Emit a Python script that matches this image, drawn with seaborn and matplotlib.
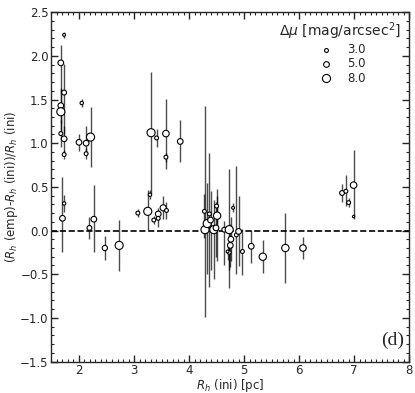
import numpy as np
import pandas as pd
import matplotlib
matplotlib.use("Agg")
import matplotlib.pyplot as plt
from matplotlib.ticker import MultipleLocator
import seaborn as sns

# R_h (ini) [pc]
rh_ini = [1.73, 1.67, 1.73, 1.67, 1.67, 1.67, 1.73, 1.73, 2.05, 2.00,
          2.13, 2.13, 2.21, 1.70, 1.73, 2.19, 2.27, 2.47, 2.73, 3.07,
          3.25, 3.29, 3.36, 3.44, 3.44, 3.53, 3.59, 3.31, 3.41, 3.58,
          3.58, 3.84,
          4.28, 4.29, 4.33, 4.37, 4.39, 4.45, 4.51, 4.49, 4.50, 4.64,
          4.73, 4.76, 4.75, 4.73, 4.70, 4.86, 4.90, 4.80,
          4.97, 5.13, 5.34, 5.75, 6.07, 6.78, 6.85, 6.90, 6.99, 6.99]
# relative difference (R_h(emp)-R_h(ini))/R_h(ini)
rel_diff = [2.24, 1.92, 1.58, 1.43, 1.36, 1.11, 1.05, 0.87, 1.46, 1.01,
            1.00, 0.88, 1.07, 0.14, 0.31, 0.03, 0.13, -0.20, -0.17, 0.20,
            0.22, 0.41, 0.12, 0.19, 0.14, 0.26, 0.23, 1.12, 1.06, 1.11,
            0.84, 1.02,
            0.22, 0.01, 0.08, 0.19, 0.12, 0.01, 0.17, 0.03, 0.28, 0.01,
            0.01, -0.10, -0.17, -0.25, -0.24, -0.05, -0.01, 0.26,
            -0.24, -0.18, -0.30, -0.20, -0.20, 0.43, 0.45, 0.32, 0.52, 0.16]
err_lo = [0.03, 0.35, 0.47, 0.20, 0.25, 0.15, 0.15, 0.05, 0.05, 0.10,
          0.12, 0.06, 0.34, 0.39, 0.10, 0.13, 0.37, 0.14, 0.29, 0.05,
          0.21, 0.05, 0.05, 0.07, 0.10, 0.13, 0.10, 0.70, 0.10, 0.40,
          0.05, 0.24,
          0.30, 1.00, 0.58, 0.84, 0.57, 0.56, 0.52, 0.33, 0.20, 0.41,
          0.67, 0.25, 0.25, 0.20, 0.10, 0.45, 0.40, 0.05,
          0.27, 0.19, 0.19, 0.40, 0.13, 0.10, 0.17, 0.05, 0.35, 0.03]
err_hi = [0.03, 0.20, 0.33, 0.20, 0.25, 0.15, 0.15, 0.05, 0.05, 0.10,
          0.20, 0.06, 0.34, 0.47, 0.10, 0.13, 0.39, 0.14, 0.29, 0.05,
          0.24, 0.05, 0.05, 0.07, 0.10, 0.14, 0.10, 0.69, 0.10, 0.40,
          0.05, 0.24,
          0.20, 1.42, 0.47, 0.70, 0.33, 0.34, 0.23, 0.30, 0.20, 0.10,
          0.69, 0.25, 0.25, 0.20, 0.10, 0.79, 0.40, 0.05,
          0.26, 0.19, 0.19, 0.40, 0.13, 0.10, 0.19, 0.05, 0.40, 0.03]
# Delta mu [mag/arcsec^2]
dmu = [2.0, 5.0, 4.0, 5.0, 8.0, 3.0, 5.0, 3.0, 2.5, 5.0,
       5.0, 3.0, 8.0, 5.0, 2.5, 4.0, 5.0, 4.5, 8.0, 3.0,
       8.0, 2.5, 3.0, 5.0, 3.0, 5.5, 3.0, 8.0, 3.0, 6.0,
       3.0, 5.0,
       3.0, 8.0, 8.0, 3.0, 5.0, 8.0, 7.0, 5.0, 3.0, 4.0,
       8.0, 5.0, 5.0, 3.0, 2.0, 3.0, 5.0, 2.0,
       3.0, 5.0, 7.0, 7.0, 6.0, 4.0, 3.0, 3.0, 6.0, 1.5]

legend_dmu = [3.0, 5.0, 8.0]

df = pd.DataFrame({"rh": rh_ini, "rel": rel_diff, "lo": err_lo, "hi": err_hi, "dmu": dmu})


def area(v):
    return 1.5 * v ** 1.5


sns.set_style("ticks")
plt.rcParams["font.family"] = ["DejaVu Sans"]
plt.rcParams["mathtext.fontset"] = "dejavusans"

fig = plt.figure(figsize=(4.15, 3.93), dpi=100)
ax = fig.add_axes([0.124, 0.080, 0.862, 0.889])

ax.axhline(0, color="k", ls="--", lw=1.2, zorder=1)
ax.errorbar(df["rh"], df["rel"], yerr=[df["lo"], df["hi"]], fmt="none",
            ecolor="k", elinewidth=1.0, alpha=0.7, capsize=0, zorder=2)
sns.scatterplot(data=df, x="rh", y="rel", size="dmu",
                sizes={v: area(v) for v in df["dmu"].unique()},
                color="white", edgecolor="k", linewidth=0.8,
                legend=False, zorder=3, ax=ax)

handles = [ax.scatter([], [], s=area(v), facecolor="white", edgecolor="k", linewidth=0.8)
           for v in legend_dmu]
leg = ax.legend(handles, [f"{v:.1f}" for v in legend_dmu],
                title=r"$\Delta\mu$ [mag/arcsec$^2$]", loc="upper right",
                frameon=False, fontsize=8.5, title_fontsize=10,
                handletextpad=0.8, labelspacing=0.1, borderaxespad=0.3)

ax.set_xlim(1.5, 8)
ax.set_ylim(-1.5, 2.5)
ax.xaxis.set_major_locator(MultipleLocator(1))
ax.xaxis.set_minor_locator(MultipleLocator(0.1))
ax.yaxis.set_major_locator(MultipleLocator(0.5))
ax.yaxis.set_minor_locator(MultipleLocator(0.1))
ax.tick_params(which="both", direction="in", top=True, right=True, labelsize=8.5, pad=2)
ax.tick_params(which="major", length=5, width=1)
ax.tick_params(which="minor", length=2.5, width=0.8)
for s in ax.spines.values():
    s.set_linewidth(1)

ax.set_xlabel(r"$R_h$ (ini) [pc]", fontsize=8.5, labelpad=0)
ax.set_ylabel(r"($R_h$ (emp)-$R_h$ (ini))/$R_h$ (ini)", fontsize=8.5, labelpad=0)

ax.text(0.985, 0.035, "(d)", transform=ax.transAxes, ha="right", va="bottom",
        fontsize=14, family="Liberation Serif")

fig.savefig("out.png", dpi=100)
